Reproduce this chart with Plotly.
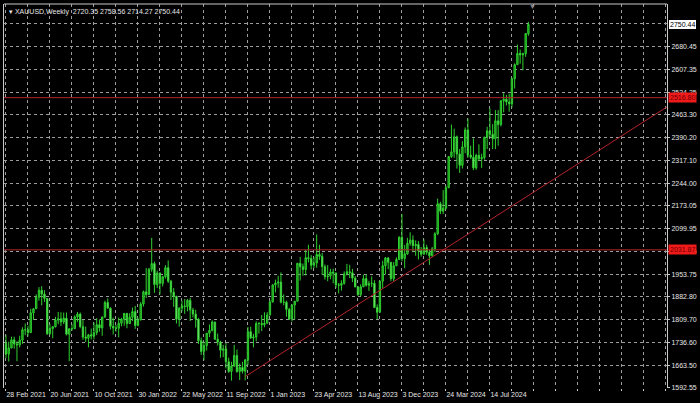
import pandas as pd
import plotly.graph_objects as go

symbol_label = "XAUUSD,Weekly"
first_week = "2021-02-28"

# ---------------- weekly OHLC ----------------
open_2021 = [1734, 1700, 1719, 1745, 1732, 1729, 1744, 1777, 1777, 1768, 1831, 1844, 1881, 1903, 1891, 1877,
             1764, 1781, 1787, 1808, 1812, 1802, 1814, 1763, 1780, 1781, 1818, 1827, 1787, 1754, 1750, 1761,
             1757, 1768, 1793, 1783, 1818, 1864, 1846, 1788, 1783, 1782, 1798, 1811]
high_2021 = [1760, 1739, 1755, 1755, 1740, 1758, 1785, 1797, 1790, 1844, 1845, 1890, 1913, 1916, 1903, 1877,
             1795, 1788, 1818, 1834, 1833, 1832, 1832, 1782, 1795, 1823, 1834, 1832, 1808, 1787, 1764, 1781,
             1800, 1814, 1810, 1818, 1870, 1877, 1849, 1816, 1793, 1816, 1815, 1831]
low_2021 = [1687, 1676, 1719, 1717, 1677, 1721, 1732, 1760, 1756, 1767, 1808, 1843, 1870, 1855, 1866, 1761,
            1762, 1750, 1784, 1795, 1789, 1795, 1759, 1677, 1774, 1779, 1802, 1782, 1745, 1738, 1721, 1746,
            1746, 1760, 1771, 1758, 1815, 1845, 1778, 1762, 1771, 1753, 1788, 1790]
close_2021 = [1700, 1719, 1745, 1732, 1729, 1744, 1777, 1777, 1768, 1831, 1844, 1881, 1903, 1891, 1877, 1764,
              1781, 1787, 1808, 1812, 1802, 1814, 1763, 1780, 1781, 1818, 1827, 1787, 1754, 1750, 1761, 1757,
              1768, 1793, 1783, 1818, 1864, 1846, 1788, 1783, 1782, 1798, 1811, 1829]

open_2022 = [1829, 1797, 1817, 1835, 1791, 1808, 1859, 1898, 1889, 1970, 1988, 1921, 1958, 1925, 1946, 1975,
             1932, 1897, 1884, 1811, 1846, 1853, 1851, 1871, 1840, 1827, 1811, 1742, 1708, 1727, 1766, 1775,
             1802, 1747, 1738, 1712, 1716, 1675, 1644, 1661, 1695, 1644, 1657, 1645, 1681, 1771, 1751, 1754,
             1797, 1797, 1793, 1798]
high_2022 = [1831, 1830, 1848, 1853, 1815, 1865, 1902, 1974, 1974, 2070, 1994, 1966, 1960, 1949, 1983, 1998,
             1936, 1910, 1884, 1849, 1870, 1875, 1875, 1879, 1847, 1841, 1814, 1752, 1739, 1767, 1794, 1807,
             1802, 1765, 1742, 1729, 1735, 1688, 1675, 1729, 1714, 1670, 1675, 1684, 1786, 1787, 1764, 1804,
             1802, 1824, 1833, 1833]
low_2022 = [1782, 1796, 1805, 1780, 1788, 1808, 1851, 1878, 1889, 1962, 1895, 1910, 1890, 1915, 1940, 1926,
            1872, 1850, 1797, 1787, 1836, 1828, 1836, 1805, 1816, 1784, 1732, 1697, 1680, 1711, 1754, 1772,
            1745, 1727, 1688, 1690, 1654, 1640, 1615, 1660, 1640, 1617, 1638, 1616, 1665, 1748, 1721, 1740,
            1765, 1773, 1785, 1797]
close_2022 = [1797, 1817, 1835, 1791, 1808, 1859, 1898, 1889, 1970, 1988, 1921, 1958, 1925, 1946, 1975, 1932,
              1897, 1884, 1811, 1846, 1853, 1851, 1871, 1840, 1827, 1811, 1742, 1708, 1727, 1766, 1775, 1802,
              1747, 1738, 1712, 1716, 1675, 1644, 1661, 1695, 1644, 1657, 1645, 1681, 1771, 1751, 1754, 1797,
              1797, 1793, 1798, 1824]

open_2023 = [1824, 1866, 1920, 1926, 1929, 1865, 1865, 1842, 1811, 1856, 1868, 1989, 1978, 1969, 2007, 2004,
             1983, 1990, 2017, 2011, 1978, 1946, 1948, 1961, 1958, 1920, 1919, 1925, 1955, 1962, 1959, 1942,
             1914, 1889, 1914, 1940, 1919, 1924, 1925, 1848, 1833, 1932, 1981, 2006, 1992, 1940, 1981, 2001,
             2072, 2004, 2019, 2053, 2063]
high_2023 = [1871, 1922, 1937, 1949, 1960, 1890, 1870, 1847, 1858, 1869, 1990, 2009, 1988, 2032, 2048, 2015,
             2009, 2081, 2048, 2022, 1985, 1983, 1971, 1972, 1959, 1926, 1935, 1963, 1987, 1984, 1971, 1948,
             1915, 1922, 1953, 1953, 1933, 1947, 1935, 1858, 1933, 1997, 2009, 2009, 1993, 1993, 2008, 2075,
             2146, 2047, 2070, 2088, 2078]
low_2023 = [1824, 1864, 1896, 1911, 1861, 1855, 1819, 1809, 1804, 1810, 1868, 1934, 1949, 1950, 1992, 1969,
            1974, 1975, 2000, 1952, 1937, 1932, 1938, 1925, 1910, 1893, 1902, 1921, 1950, 1942, 1929, 1912,
            1885, 1884, 1913, 1915, 1901, 1913, 1846, 1810, 1833, 1909, 1953, 1970, 1932, 1931, 1980, 2001,
            1995, 1973, 2016, 2045, 2024]
close_2023 = [1866, 1920, 1926, 1929, 1865, 1865, 1842, 1811, 1856, 1868, 1989, 1978, 1969, 2007, 2004, 1983,
              1990, 2017, 2011, 1978, 1946, 1948, 1961, 1958, 1920, 1919, 1925, 1955, 1962, 1959, 1942, 1914,
              1889, 1914, 1940, 1919, 1924, 1925, 1848, 1833, 1932, 1981, 2006, 1992, 1940, 1981, 2001, 2072,
              2004, 2019, 2053, 2063, 2045]

open_2024 = [2045, 2049, 2029, 2018, 2039, 2024, 2013, 2035, 2083, 2179, 2155, 2165, 2230, 2329, 2344, 2392,
             2337, 2301, 2360, 2414, 2334, 2327, 2293, 2333, 2322, 2326, 2391, 2411, 2400, 2386, 2443, 2431,
             2507, 2512, 2503, 2497, 2577, 2622, 2658, 2653, 2657, 2720.35]
high_2024 = [2062, 2060, 2041, 2065, 2048, 2032, 2041, 2088, 2195, 2185, 2222, 2236, 2330, 2431, 2418, 2396,
             2353, 2378, 2422, 2450, 2364, 2387, 2338, 2368, 2338, 2392, 2424, 2483, 2432, 2477, 2477, 2509,
             2531, 2525, 2529, 2581, 2626, 2686, 2670, 2660, 2722, 2758.56]
low_2024 = [2013, 2001, 2010, 2016, 2016, 1984, 2010, 2025, 2079, 2146, 2146, 2160, 2228, 2325, 2325, 2291,
            2277, 2291, 2340, 2325, 2322, 2286, 2287, 2316, 2293, 2319, 2353, 2392, 2353, 2353, 2364, 2425,
            2470, 2492, 2472, 2485, 2546, 2622, 2625, 2604, 2647, 2714.27]
close_2024 = [2049, 2029, 2018, 2039, 2024, 2013, 2035, 2083, 2179, 2155, 2165, 2230, 2329, 2344, 2392, 2337,
              2301, 2360, 2414, 2334, 2327, 2293, 2333, 2322, 2326, 2391, 2411, 2400, 2386, 2443, 2431, 2507,
              2512, 2503, 2497, 2577, 2622, 2658, 2653, 2657, 2721, 2750.44]

opens = open_2021 + open_2022 + open_2023 + open_2024
highs = high_2021 + high_2022 + high_2023 + high_2024
lows = low_2021 + low_2022 + low_2023 + low_2024
closes = close_2021 + close_2022 + close_2023 + close_2024
dates = pd.date_range(first_week, periods=len(closes), freq="7D")

# ---------------- axes ----------------
x_tick_labels = ["28 Feb 2021", "20 Jun 2021", "10 Oct 2021", "30 Jan 2022", "22 May 2022", "11 Sep 2022",
                 "1 Jan 2023", "23 Apr 2023", "13 Aug 2023", "3 Dec 2023", "24 Mar 2024", "14 Jul 2024"]
x_grid_dates = pd.date_range(first_week, periods=31, freq="56D")  # grid every 8 weeks
x_tick_text = [x_tick_labels[i // 2] if (i % 2 == 0 and i // 2 < len(x_tick_labels)) else ""
               for i in range(len(x_grid_dates))]

y_tick_values = [1592.55, 1663.50, 1736.60, 1809.70, 1882.80, 1953.75, 2026.85, 2099.95, 2173.05,
                 2244.00, 2317.10, 2390.20, 2463.30, 2534.25, 2607.35, 2680.45, 2753.55]

# horizontal levels and trend line
h_levels = [2516.80, 2031.87]
trend_dates = ["2022-10-30", "2026-01-04"]
trend_prices = [1628.0, 2558.0]

GRID = "#9c9c9c"
TXT = "#e6e6e6"
RED = "#b3242a"
FONT = "Liberation Sans"

fig = go.Figure()
fig.add_trace(go.Candlestick(
    x=dates, open=opens, high=highs, low=lows, close=closes,
    increasing=dict(line=dict(color="#2fd12f", width=1), fillcolor="#0f7a0f"),
    decreasing=dict(line=dict(color="#2fd12f", width=1), fillcolor="#a6eea6"),
    whiskerwidth=0, showlegend=False, hoverinfo="skip",
))
fig.add_trace(go.Scatter(x=trend_dates, y=trend_prices, mode="lines",
                         line=dict(color=RED, width=1), showlegend=False, hoverinfo="skip"))
for lv in h_levels:
    fig.add_hline(y=lv, line=dict(color=RED, width=1))
    fig.add_annotation(x=1, xref="paper", y=lv, yref="y", xanchor="left", yanchor="middle",
                       xshift=1, text=f"{lv:.2f}", showarrow=False,
                       bgcolor="#f01a1a", borderpad=1,
                       font=dict(family=FONT, size=7, color="#6e0000"))

# current price box
fig.add_annotation(x=1, xref="paper", y=closes[-1], yref="y", xanchor="left", yanchor="middle",
                   xshift=1, text=f"{closes[-1]:.2f}", showarrow=False,
                   bgcolor="#ffffff", bordercolor="#000000", borderpad=1,
                   font=dict(family=FONT, size=7, color="#000000"))

# title text top-left
fig.add_annotation(x=0, xref="paper", y=1, yref="paper", xanchor="left", yanchor="top",
                   xshift=3, yshift=-2, showarrow=False,
                   text=f"▾ {symbol_label}  {opens[-1]:.2f} {highs[-1]:.2f} {lows[-1]:.2f} {closes[-1]:.2f}",
                   font=dict(family=FONT, size=7, color=TXT))

# chart shift marker
fig.add_annotation(x=dates[-1] + pd.Timedelta(days=11), y=1, yref="paper", yanchor="top",
                   yshift=3, showarrow=False, text="▼", font=dict(size=7, color="#8a8a8a"))

# top frame line
fig.add_shape(type="line", xref="paper", yref="paper", x0=0, x1=1, y0=1, y1=1,
              line=dict(color="#c8c8c8", width=1))

x_start = dates[0] - pd.Timedelta(days=5)
x_end = dates[0] + pd.Timedelta(days=7 * 240.4)

fig.update_layout(
    width=700, height=403,
    margin=dict(l=4, r=33, t=4, b=15, autoexpand=False),
    paper_bgcolor="#000000", plot_bgcolor="#000000",
    font=dict(family=FONT, size=7, color=TXT),
    xaxis=dict(type="date", range=[x_start, x_end], rangeslider=dict(visible=False),
               tickmode="array", tickvals=x_grid_dates, ticktext=x_tick_text, tickangle=0,
               ticklabelposition="outside right", ticks="outside", ticklen=2, tickcolor="#c8c8c8",
               showgrid=True, gridcolor=GRID, griddash="3px,3px", gridwidth=1, automargin=False,
               showline=False, zeroline=False, tickfont=dict(family=FONT, size=7, color=TXT)),
    yaxis=dict(side="right", range=[1591.5, 2815.3], automargin=False,
               tickmode="array", tickvals=y_tick_values, ticktext=[f"{v:.2f}" for v in y_tick_values],
               ticks="outside", ticklen=2, tickcolor="#c8c8c8",
               showgrid=True, gridcolor=GRID, griddash="3px,3px", gridwidth=1,
               showline=True, mirror=True, linecolor="#c8c8c8", linewidth=1,
               zeroline=False, tickfont=dict(family=FONT, size=7, color=TXT)),
)

fig.write_html("out.html", config={"displayModeBar": False, "staticPlot": True},
               post_script="document.body.style.margin='0';document.body.style.background='#000';")
